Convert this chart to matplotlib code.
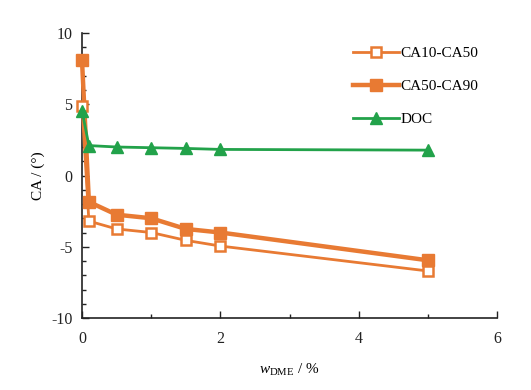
import matplotlib
matplotlib.use("Agg")
import matplotlib.pyplot as plt
from matplotlib.ticker import MultipleLocator, FuncFormatter

plt.rcParams['font.family'] = ['Liberation Serif', 'DejaVu Serif']
plt.rcParams['mathtext.fontset'] = 'custom'
plt.rcParams['mathtext.rm'] = 'Liberation Serif'
plt.rcParams['mathtext.it'] = 'Liberation Serif:italic'

x = [0, 0.1, 0.5, 1, 1.5, 2, 5]
ca10_ca50 = [4.9, -3.2, -3.75, -4.0, -4.55, -4.95, -6.7]
ca50_ca90 = [8.1, -1.85, -2.75, -3.0, -3.75, -4.0, -5.95]
doc = [4.55, 2.1, 2.0, 1.95, 1.9, 1.83, 1.78]

orange = '#E87A33'
green = '#22A24A'

fig = plt.figure(figsize=(5.31, 3.90), dpi=100)
ax = fig.add_axes([0.1544, 0.1846, 0.7816, 0.7308])

ax.plot(x, ca10_ca50, color=orange, lw=2.0, marker='s', ms=6.5,
        mfc='white', mec=orange, mew=1.8, label='CA10-CA50', clip_on=False, zorder=3)
ax.plot(x, ca50_ca90, color=orange, lw=3.2, marker='s', ms=9,
        mfc=orange, mec=orange, label='CA50-CA90', clip_on=False, zorder=2)
ax.plot(x, doc, color=green, lw=2.0, marker='^', ms=8.5,
        mfc=green, mec=green, label='DOC', clip_on=False, zorder=4)

ax.set_xlim(0, 6)
ax.set_ylim(-10, 10)
ax.xaxis.set_major_locator(MultipleLocator(2))
ax.xaxis.set_minor_locator(MultipleLocator(1))
ax.yaxis.set_major_locator(MultipleLocator(5))
ax.yaxis.set_minor_locator(MultipleLocator(1))
fmt = FuncFormatter(lambda v, p: f"{v:g}".replace('\u2212', '-'))
ax.xaxis.set_major_formatter(fmt)
ax.yaxis.set_major_formatter(fmt)

for s in ['top', 'right']:
    ax.spines[s].set_visible(False)
for s in ['left', 'bottom']:
    ax.spines[s].set_linewidth(1.2)
    ax.spines[s].set_color('#222222')
    ax.spines[s].set_zorder(1)

ax.tick_params(axis='both', which='major', direction='in', length=5, width=1.0,
               labelsize=11.5, colors='#222222', pad=7)
ax.tick_params(axis='both', which='minor', direction='in', length=3, width=1.0,
               colors='#222222')
ax.tick_params(axis='x', which='major', pad=9)

ax.set_xlabel(r'$\mathit{w}_{\mathrm{DME}}$ / %', fontsize=11, labelpad=11)
ax.set_ylabel('CA / (°)', fontsize=11, labelpad=4)

leg = ax.legend(loc='upper left', bbox_to_anchor=(0.62, 1.0), frameon=False,
                fontsize=11, handlelength=3.0, handletextpad=0.1,
                labelspacing=1.25)

fig.savefig('out.png', dpi=100)
